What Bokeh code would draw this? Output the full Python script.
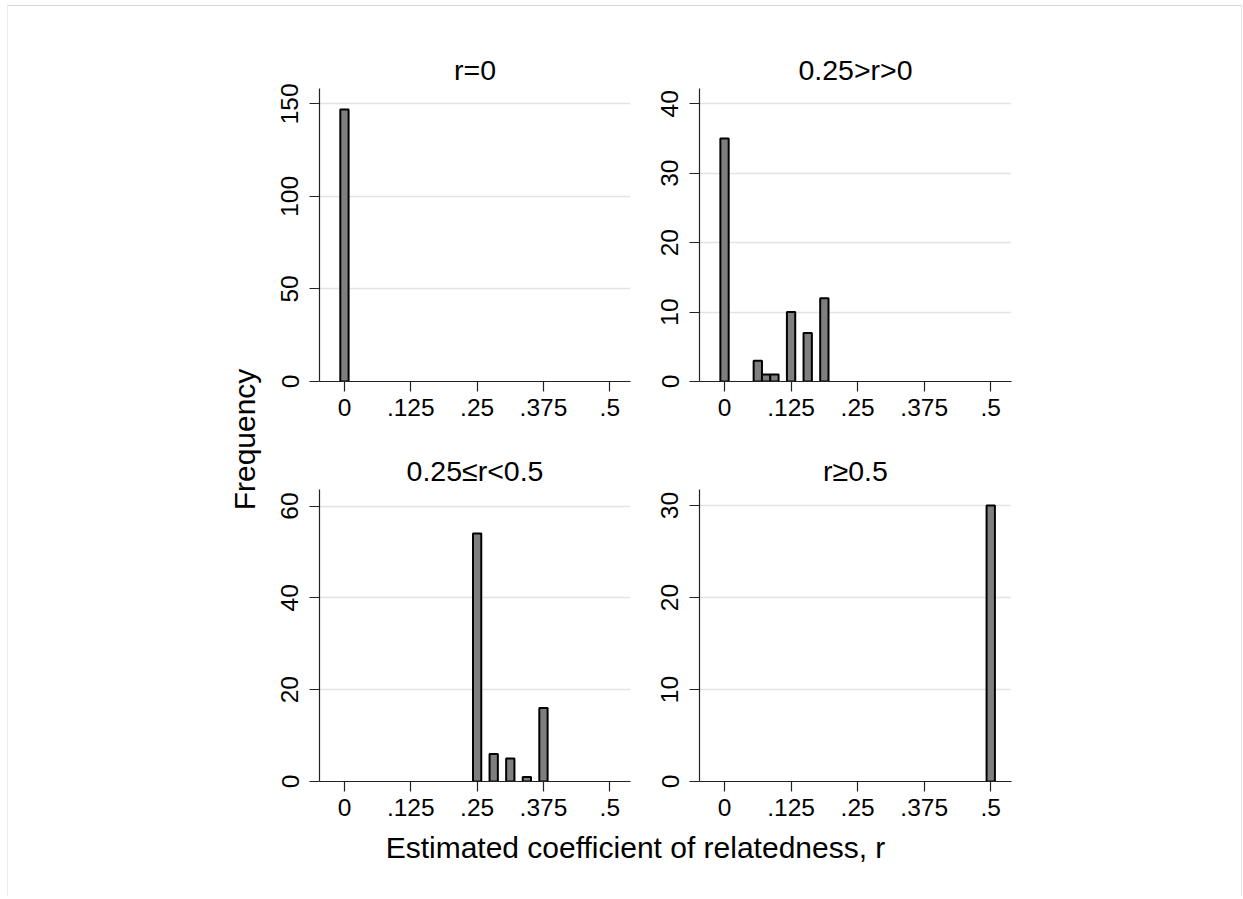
import math
from bokeh.plotting import figure
from bokeh.layouts import row, column
from bokeh.models import FixedTicker, Range1d, Label
from bokeh.embed import file_html
from bokeh.resources import INLINE

# ---------------- data ----------------
panel_titles = ["r=0", "0.25>r>0", "0.25\u2264r<0.5", "r\u22650.5"]

tl_r = [0.0]
tl_n = [147]

tr_r = [0.0, 0.0625, 0.078125, 0.09375, 0.125, 0.15625, 0.1875]
tr_n = [35, 3, 1, 1, 10, 7, 12]

bl_r = [0.25, 0.28125, 0.3125, 0.34375, 0.375]
bl_n = [54, 6, 5, 1, 16]

br_r = [0.5]
br_n = [30]

x_ticks = [0, 0.125, 0.25, 0.375, 0.5]
x_tick_labels = ["0", ".125", ".25", ".375", ".5"]

y_ticks_tl = [0, 50, 100, 150]
y_ticks_tr = [0, 10, 20, 30, 40]
y_ticks_bl = [0, 20, 40, 60]
y_ticks_br = [0, 10, 20, 30]

y_max = [158.3, 42.2, 63.6, 31.75]

bin_width = 1 / 64
y_label = "Frequency"
x_label = "Estimated coefficient of relatedness, r"

FONT = "Liberation Sans"
TICK_FS = "24.5px"
TITLE_FS = "28.5px"
LABEL_FS = "30px"


def make_panel(title, xs, ns, yticks, ymax, width, height, mbl, mbr, mbt, mbb):
    p = figure(width=width, height=height,
               x_range=Range1d(-0.047, 0.539), y_range=Range1d(0, ymax),
               output_backend="svg", toolbar_location=None, tools="",
               min_border_left=mbl, min_border_right=mbr,
               min_border_top=mbt, min_border_bottom=mbb)
    p.title.text = title
    p.title.align = "center"
    p.title.text_font = FONT
    p.title.text_font_size = TITLE_FS
    p.title.text_font_style = "normal"
    p.title.text_color = "black"
    p.title.standoff = 6
    p.outline_line_color = None
    p.background_fill_color = "white"
    p.border_fill_color = "white"

    p.vbar(x=xs, top=ns, bottom=0, width=bin_width,
           fill_color="#7f7f7f", line_color="black", line_width=2)

    p.xgrid.visible = False
    p.ygrid.grid_line_color = "#e3e3e3"
    p.ygrid.grid_line_width = 1.5

    xa = p.xaxis[0]
    xa.ticker = FixedTicker(ticks=x_ticks)
    xa.major_label_overrides = {t: l for t, l in zip(x_ticks, x_tick_labels)}
    ya = p.yaxis[0]
    ya.ticker = FixedTicker(ticks=yticks)
    ya.major_label_orientation = "vertical"
    for ax in (xa, ya):
        ax.axis_line_color = "#222222"
        ax.axis_line_width = 1.2
        ax.major_tick_line_color = "#222222"
        ax.major_tick_line_width = 1.2
        ax.major_tick_out = 10
        ax.major_tick_in = 0
        ax.minor_tick_line_color = None
        ax.major_label_text_font = FONT
        ax.major_label_text_font_size = TICK_FS
        ax.major_label_text_color = "black"
    xa.major_label_standoff = 7
    ya.major_label_standoff = 11
    return p


TOP_H, BOT_H = 434, 390
L_W, R_W = 382, 595
FREQ_W = 256

tl = make_panel(panel_titles[0], tl_r, tl_n, y_ticks_tl, y_max[0], L_W, TOP_H, 55, 16, 82, 59)
tr = make_panel(panel_titles[1], tr_r, tr_n, y_ticks_tr, y_max[1], R_W, TOP_H, 53, 230, 82, 59)
bl = make_panel(panel_titles[2], bl_r, bl_n, y_ticks_bl, y_max[2], L_W, BOT_H, 55, 16, 49, 49)
br = make_panel(panel_titles[3], br_r, br_n, y_ticks_br, y_max[3], R_W, BOT_H, 53, 230, 49, 49)

freq_h = TOP_H + BOT_H
freq = figure(width=FREQ_W, height=freq_h, x_range=Range1d(0, FREQ_W), y_range=Range1d(0, freq_h),
              output_backend="svg", toolbar_location=None, tools="",
              x_axis_location=None, y_axis_location=None, min_border=0)
freq.grid.visible = False
freq.outline_line_color = None
freq.add_layout(Label(x=236, y=freq_h - 433, text=y_label, angle=math.pi / 2,
                      text_align="center", text_baseline="middle",
                      text_font=FONT, text_font_size=LABEL_FS, text_color="black"))

XL_W, XL_H = FREQ_W + L_W + R_W, 66
xl = figure(width=XL_W, height=XL_H, x_range=Range1d(0, XL_W), y_range=Range1d(0, XL_H),
            output_backend="svg", toolbar_location=None, tools="",
            x_axis_location=None, y_axis_location=None, min_border=0)
xl.grid.visible = False
xl.outline_line_color = None
xl.add_layout(Label(x=627, y=XL_H - 17, text=x_label, text_align="center", text_baseline="middle",
                    text_font=FONT, text_font_size=LABEL_FS, text_color="black"))

layout = column(
    row(freq, column(row(tl, tr), row(bl, br))),
    xl,
    styles={"margin-top": "5px", "margin-left": "7px",
            "border-top": "1px solid #d6d6d6", "border-left": "1px solid #ececec",
            "border-right": "1px solid #e4e4e4"},
)

open("out.html", "w").write(file_html(layout, INLINE))
